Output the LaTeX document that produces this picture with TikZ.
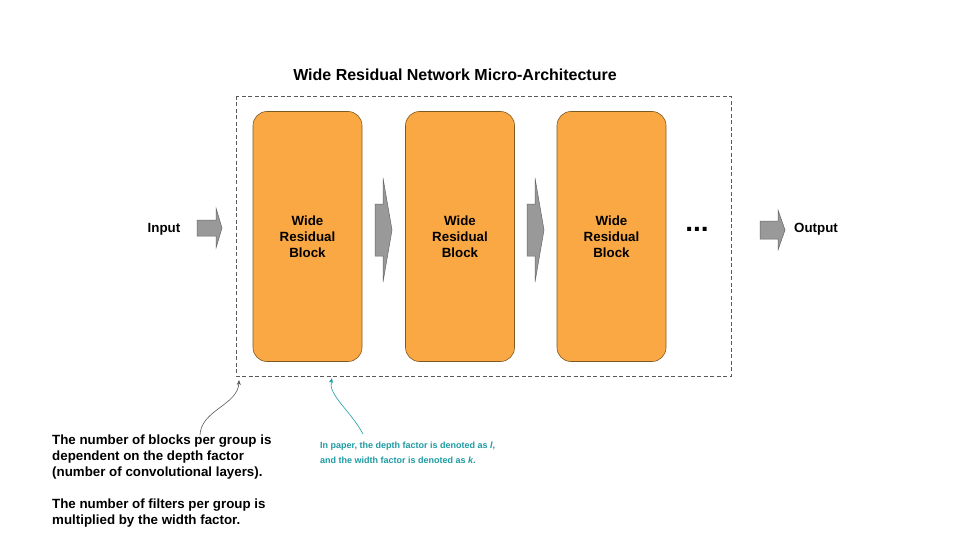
\documentclass[tikz,border=0pt]{standalone}
\usepackage{fontspec}
\setmainfont{Liberation Sans}
\usetikzlibrary{arrows.meta}
\definecolor{blockfill}{HTML}{FAA843}
\definecolor{blockline}{HTML}{7F5A20}
\definecolor{arrfill}{HTML}{999999}
\definecolor{arrline}{HTML}{666666}
\definecolor{boxline}{HTML}{595959}
\definecolor{tealc}{HTML}{1E9BA3}
\begin{document}
\begin{tikzpicture}[x=1pt,y=-1pt,
  blockbox/.style={draw=blockline,line width=0.6pt,fill=blockfill,rounded corners=14pt,
    minimum width=109pt,minimum height=250pt,inner sep=0pt,
    font=\bfseries\fontsize{13.33}{16}\selectfont,align=center},
  lbl/.style={font=\bfseries\fontsize{13.33}{16}\selectfont,inner sep=0pt},
  flowarrow/.style={draw=arrline,line width=0.5pt,fill=arrfill},
  groupbox/.style={draw=boxline,line width=0.7pt,dash pattern=on 4pt off 2.5pt},
  note/.style={font=\bfseries\fontsize{13.33}{16}\selectfont,align=left,inner sep=0pt},
  tealnote/.style={font=\bfseries\fontsize{9}{15}\selectfont,align=left,inner sep=0pt,text=tealc},
  callout/.style={line width=0.6pt,-{Stealth[length=5pt,width=4pt]}}
]
\useasboundingbox (0,0) rectangle (960,540);
\fill[white] (0,0) rectangle (960,540);

% title
\node[font=\bfseries\fontsize{16}{19}\selectfont,inner sep=0pt] (title) at (455,74.5) {Wide Residual Network Micro-Architecture};

% group box
\draw[groupbox] (236,96) rectangle (731,376);
\coordinate (boxsw) at (239,380);
\coordinate (boxb) at (332,378);

% blocks
\node[blockbox] (b1) at (307.5,236.5) {Wide\\Residual\\Block};
\node[blockbox] (b2) at (460,236.5) {Wide\\Residual\\Block};
\node[blockbox] (b3) at (611.5,236.5) {Wide\\Residual\\Block};

% labels
\node[lbl] (in) at (164,229.5) {Input};
\node[lbl,anchor=west] (out) at (794,229.5) {Output};
\node[font=\bfseries\fontsize{28}{28}\selectfont,inner sep=0pt] (dots) at (697,229) {...};

% block arrows
\draw[flowarrow] (197,220) -- (216,220) -- (216,208) -- (222,228) -- (216,248) -- (216,236) -- (197,236) -- cycle;
\draw[flowarrow] (375,204) -- (383,204) -- (383,178) -- (392,230) -- (383,282) -- (383,256) -- (375,256) -- cycle;
\draw[flowarrow] (527,204) -- (535,204) -- (535,178) -- (544,230) -- (535,282) -- (535,256) -- (527,256) -- cycle;
\draw[flowarrow] (760,221) -- (778,221) -- (778,210) -- (785,230) -- (778,250) -- (778,239) -- (760,239) -- cycle;

% notes
\node[note,anchor=base west] (n1) at (52,524.5) {The number of blocks per group is\\dependent on the depth factor\\(number of convolutional layers).\\[16pt]The number of filters per group is\\multiplied by the width factor.};
\node[tealnote,anchor=base west] (n2) at (320,463) {In paper, the depth factor is denoted as \textit{l},\\and the width factor is denoted as \textit{k}.};

% callouts
\coordinate (c1) at (200,435);
\coordinate (c2) at (363,434);
\draw[callout,draw=boxline] (c1) .. controls (201,410) and (238,405) .. (boxsw);
\draw[callout,draw=tealc] (c2) .. controls (350,410) and (328,395) .. (boxb);
\end{tikzpicture}
\end{document}
